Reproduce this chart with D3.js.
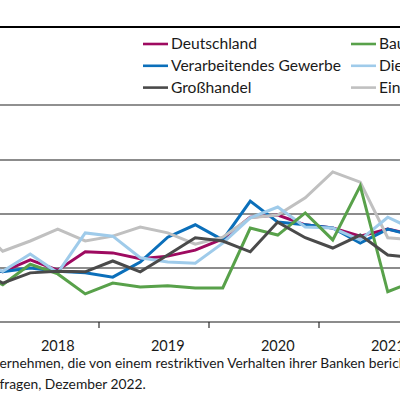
<!DOCTYPE html>
<html>
<head>
<meta charset="utf-8">
<script src="https://cdn.jsdelivr.net/npm/d3@7/dist/d3.min.js"></script>
<style>
  html, body { margin: 0; padding: 0; background: #fff; }
  svg { display: block; font-family: Lato, "Open Sans", sans-serif; }
</style>
</head>
<body>
<svg id="chart" width="400" height="400"></svg>
<script>
// ---- data ----
const quarters = ["2017 Q4",
  "2018 Q1","2018 Q2","2018 Q3","2018 Q4",
  "2019 Q1","2019 Q2","2019 Q3","2019 Q4",
  "2020 Q1","2020 Q2","2020 Q3","2020 Q4",
  "2021 Q1","2021 Q2","2021 Q3","2021 Q4"];
const deutschland      = [10.6, 9.3, 11.5, 9.6, 13.0, 12.8, 11.7, 12.2, 13.3, 15.4, 19.4, 19.8, 18.0, 17.4, 15.9, 17.2, 16.1];
const verarbeitendes   = [10.4, 9.3, 10.0, 9.4, 9.1, 8.3, 11.1, 15.7, 18.0, 15.2, 22.4, 18.5, 18.0, 17.4, 14.6, 17.2, 15.9];
const grosshandel      = [10.0, 7.2, 9.1, 9.4, 9.3, 11.3, 9.3, 12.4, 15.6, 15.0, 13.0, 18.5, 15.6, 13.7, 16.1, 12.4, 11.9];
const bau              = [9.3, 6.9, 10.7, 8.9, 5.2, 7.2, 6.5, 6.7, 6.3, 6.3, 17.4, 16.1, 20.2, 15.2, 25.2, 5.6, 7.6];
const dienstleistungen = [11.1, 9.4, 12.6, 9.1, 16.5, 15.9, 11.9, 11.1, 10.9, 14.6, 19.3, 21.3, 17.6, 17.4, 15.2, 19.4, 17.0];
const einzelhandel     = [18.0, 13.1, 15.0, 17.2, 15.0, 15.9, 17.6, 16.5, 14.4, 15.7, 19.3, 19.8, 23.0, 27.8, 25.9, 15.6, 15.2];
const seriesNames  = ["Deutschland", "Verarbeitendes Gewerbe", "Großhandel", "Bauhauptgewerbe", "Dienstleistungen", "Einzelhandel"];
const seriesColors = ["#9e0a60", "#0b6fba", "#4a4a4a", "#58a14a", "#9fcbea", "#c0c0c0"];
const seriesValues = [deutschland, verarbeitendes, grosshandel, bau, dienstleistungen, einzelhandel];
const drawOrder    = [0, 1, 5, 4, 3, 2];
const yearLabels   = ["2018", "2019", "2020", "2021"];
const yearLabelQ   = ["2018 Q3", "2019 Q3", "2020 Q3", "2021 Q3"];
const yearTickQ    = ["2018 Q4", "2019 Q4", "2020 Q4"];
const gridValues   = [10, 20, 30];
const noteLines = ["ernehmen, die von einem restriktiven Verhalten ihrer Banken berichten.",
                   "fragen, Dezember 2022."];

// ---- drawing ----
const svg = d3.select("#chart");
const W = 400;

const x = d3.scalePoint().domain(quarters).range([-24.75, 415.25]);
const y = d3.scaleLinear().domain([0, 30]).range([322, 160]);

// frame lines
svg.append("line").attr("x1", 0).attr("x2", W).attr("y1", 27).attr("y2", 27)
  .attr("stroke", "#000").attr("stroke-width", 2);
svg.append("line").attr("x1", 0).attr("x2", W).attr("y1", 105).attr("y2", 105)
  .attr("stroke", "#6b6b6b").attr("stroke-width", 1.5);

// gridlines
svg.append("g").selectAll("line").data(gridValues).join("line")
  .attr("x1", 0).attr("x2", W)
  .attr("y1", d => y(d)).attr("y2", d => y(d))
  .attr("stroke", "#1a1a1a").attr("stroke-width", 1.1);

// x axis
const ax = svg.append("g").attr("transform", `translate(0,${y(0)})`);
ax.append("line").attr("x1", 0).attr("x2", W).attr("stroke", "#1a1a1a").attr("stroke-width", 1.1);
ax.selectAll("line.tick").data(yearTickQ).join("line").attr("class", "tick")
  .attr("x1", d => x(d) + x.step() / 2).attr("x2", d => x(d) + x.step() / 2)
  .attr("y1", 0).attr("y2", 6).attr("stroke", "#1a1a1a").attr("stroke-width", 1.1);
ax.selectAll("text").data(yearLabels).join("text")
  .attr("x", (d, i) => x(yearLabelQ[i])).attr("y", 29)
  .attr("text-anchor", "middle").attr("font-size", 14.5).attr("fill", "#1a1a1a")
  .text(d => d);

// lines
const line = d3.line().x((d, i) => x(quarters[i])).y(d => y(d));
svg.append("g").selectAll("path").data(drawOrder).join("path")
  .attr("d", k => line(seriesValues[k]))
  .attr("fill", "none").attr("stroke", k => seriesColors[k])
  .attr("stroke-width", 3).attr("stroke-linejoin", "miter");

// legend
const legend = svg.append("g");
const items = legend.selectAll("g").data(seriesNames).join("g")
  .attr("transform", (d, i) => `translate(${i < 3 ? 143 : 351},${44 + (i % 3) * 21.8})`);
items.append("line").attr("x1", 0).attr("x2", 25).attr("y1", 0).attr("y2", 0)
  .attr("stroke", (d, i) => seriesColors[i]).attr("stroke-width", 2.6);
items.append("text").attr("x", 28).attr("y", 5.2).attr("font-size", 15.6).attr("fill", "#1a1a1a")
  .text(d => d);

// note
svg.append("g").selectAll("text").data(noteLines).join("text")
  .attr("x", -0.5).attr("y", (d, i) => 368 + i * 21)
  .attr("font-size", 13.8).attr("fill", "#1a1a1a").text(d => d);
</script>
</body>
</html>
